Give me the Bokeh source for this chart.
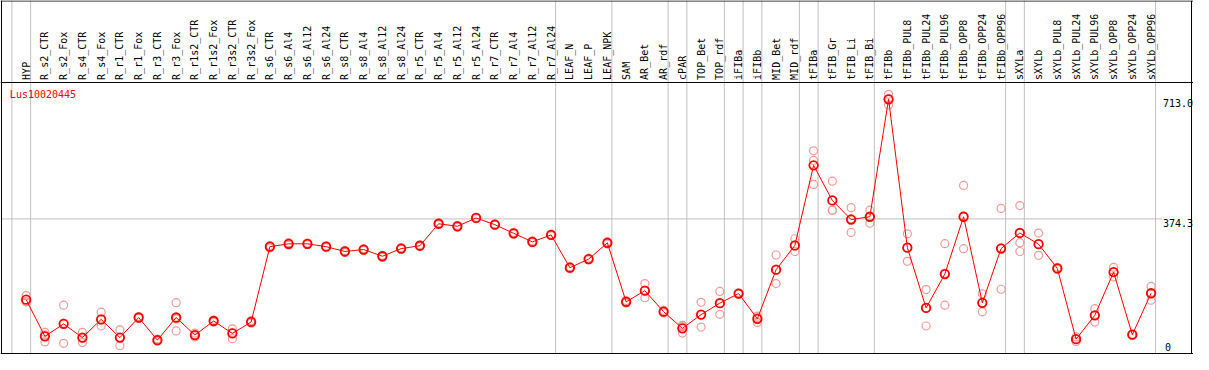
import math
from bokeh.plotting import figure
from bokeh.models import Range1d, Span, ColumnDataSource
from bokeh.core.properties import value
from bokeh.embed import file_html
from bokeh.resources import INLINE

# ---------------- data ----------------
gene = "Lus10020445"

samples = ["HYP", "R_s2_CTR", "R_s2_Fox", "R_s4_CTR", "R_s4_Fox", "R_r1_CTR", "R_r1_Fox",
           "R_r3_CTR", "R_r3_Fox", "R_r1s2_CTR", "R_r1s2_Fox", "R_r3s2_CTR", "R_r3s2_Fox",
           "R_s6_CTR", "R_s6_Al4", "R_s6_Al12", "R_s6_Al24", "R_s8_CTR", "R_s8_Al4",
           "R_s8_Al12", "R_s8_Al24", "R_r5_CTR", "R_r5_Al4", "R_r5_Al12", "R_r5_Al24",
           "R_r7_CTR", "R_r7_Al4", "R_r7_Al12", "R_r7_Al24", "LEAF_N", "LEAF_P", "LEAF_NPK",
           "SAM", "AR_Bet", "AR_rdf", "cPAR", "TOP_Bet", "TOP_rdf", "iFIBa", "iFIBb",
           "MID_Bet", "MID_rdf", "tFIBa", "tFIB_Gr", "tFIB_Li", "tFIB_Bi", "tFIBb",
           "tFIBb_PUL8", "tFIBb_PUL24", "tFIBb_PUL96", "tFIBb_OPP8", "tFIBb_OPP24",
           "tFIBb_OPP96", "sXYLa", "sXYLb", "sXYLb_PUL8", "sXYLb_PUL24", "sXYLb_PUL96",
           "sXYLb_OPP8", "sXYLb_OPP24", "sXYLb_OPP96"]

means = [145.5, 41.7, 77.0, 38.1, 89.6, 38.1, 95.0, 30.9, 95.0, 45.3, 85.1, 49.9, 82.4,
         295.6, 303.7, 303.7, 295.6, 282.0, 287.5, 268.5, 290.2, 298.3, 360.6, 353.3, 376.9,
         357.9, 333.5, 309.2, 328.9, 236.0, 260.4, 306.4,
         139.3, 170.9, 111.4, 64.3, 103.2, 135.7, 162.8, 91.4, 230.5, 299.1,
         525.9, 426.5, 372.3, 380.4, 713.0,
         292.9, 122.2, 217.9, 380.4, 136.6, 290.2,
         334.4, 302.7, 234.1, 33.6, 101.3, 223.3, 46.3, 163.7]

reps = [[157, 140, 139], [53, 46, 26], [130, 79, 22], [53, 37, 24], [110, 88, 71],
        [60, 39, 15], [97, 95, 93], [34, 31, 28], [137, 91, 57], [51, 45, 40],
        [88, 85, 82], [63, 52, 35], [86, 82, 79],
        [299, 296, 292], [307, 304, 300], [306, 304, 301], [298, 296, 293], [285, 282, 279],
        [290, 288, 285], [271, 269, 266], [293, 290, 288], [301, 298, 296], [363, 361, 358],
        [356, 353, 351], [379, 377, 375], [360, 358, 356], [336, 334, 331], [312, 309, 307],
        [331, 329, 327], [239, 236, 233], [263, 260, 258], [310, 306, 303],
        [143, 139, 136], [191, 171, 151], [115, 111, 108], [73, 69, 51], [138, 103, 68],
        [169, 134, 104], [165, 163, 161], [99, 95, 81], [272, 229, 191], [318, 297, 282],
        [567, 540, 472], [481, 399, 399], [406, 375, 336], [399, 380, 362], [727, 715, 697],
        [332, 293, 254], [174, 122, 71], [304, 220, 130], [469, 382, 290], [162, 137, 111],
        [404, 292, 175], [412, 307, 282], [334, 303, 271], [237, 234, 231], [40, 34, 27],
        [120, 101, 82], [237, 223, 210], [48, 46, 45], [183, 165, 144]]

# last sample index of each group (a grey separator follows it); -1 = before first
group_ends = [-1, 0, 28, 31, 34, 35, 37, 38, 39, 41, 42, 45, 52, 53, 60]

tick_values = [713.0, 374.3, 0.0]
tick_labels = ["713.0", "374.3", "0"]

# ---------------- layout ----------------
W, H = 1193, 354
# reference geometry: column i at px 26 + 19*i ; value v at px 366.4 - v/2.7096
PX0, PXS = 26.0, 19.0
PY0, PYS = 366.4, 2.7096
REF_W, REF_H = 1209.0, 370.0


def xi(px):
    return (px - PX0) / PXS


def yv(py):
    return (PY0 - py) * PYS


p = figure(width=W, height=H, output_backend="svg", toolbar_location=None,
           x_range=Range1d(xi(0), xi(REF_W)), y_range=Range1d(yv(REF_H), yv(0)),
           x_axis_type=None, y_axis_type=None, min_border=0,
           background_fill_color="white", border_fill_color="white")
p.outline_line_color = None
p.grid.visible = False

FONT = value("DejaVu Sans Mono")
FS = value("10px")

# grey group separators
for g in group_ends:
    p.add_layout(Span(location=g + 0.24, dimension="height", line_color="#c0c0c0",
                      line_width=1, level="underlay"))

# grey reference line at middle tick
p.segment(x0=[xi(1)], y0=[tick_values[1]], x1=[xi(1177)], y1=[tick_values[1]],
          line_color="#c0c0c0", line_width=1, level="underlay")

# header separator line
p.add_layout(Span(location=yv(85.7), dimension="width", line_color="black", line_width=1))

# borders
for loc in (xi(1.0), xi(1207.0)):
    p.add_layout(Span(location=loc, dimension="height", line_color="black", line_width=1))
for loc in (yv(0.5), yv(369.0)):
    p.add_layout(Span(location=loc, dimension="width", line_color="black", line_width=1))

idx = list(range(len(samples)))

# sample labels (rotated)
p.text(x=idx, y=[yv(83.0)] * len(samples), text=samples, angle=math.pi / 2,
       text_align="left", text_baseline="middle", text_font=FONT, text_font_size=FS,
       text_color="black")

# replicate points
rx, ry = [], []
for i, r in enumerate(reps):
    for v in r:
        rx.append(i)
        ry.append(v)
p.scatter(rx, ry, marker="circle", size=8, fill_color=None, line_color="#f09a9a",
          line_width=1.2)

# mean line and markers
src = ColumnDataSource(dict(x=idx, y=means))
p.line("x", "y", source=src, line_color="#ff0000", line_width=1)
p.scatter("x", "y", source=src, marker="circle", size=8.5, fill_color=None,
          line_color="#ff0000", line_width=1.8)

# gene name
p.text(x=[xi(9.5)], y=[yv(92.0)], text=[gene], text_align="left", text_baseline="top",
       text_font=FONT, text_font_size=FS, text_color="#ff0000")

# value labels on the right
p.text(x=[xi(1178)] * 2, y=tick_values[:2], text=tick_labels[:2], text_align="left",
       text_baseline="top", text_font=FONT, text_font_size=FS, text_color="black")
p.text(x=[xi(1180)], y=[tick_values[2]], text=[tick_labels[2]], text_align="left",
       text_baseline="bottom", text_font=FONT, text_font_size=FS, text_color="black")

open("out.html", "w").write(file_html(p, INLINE))
